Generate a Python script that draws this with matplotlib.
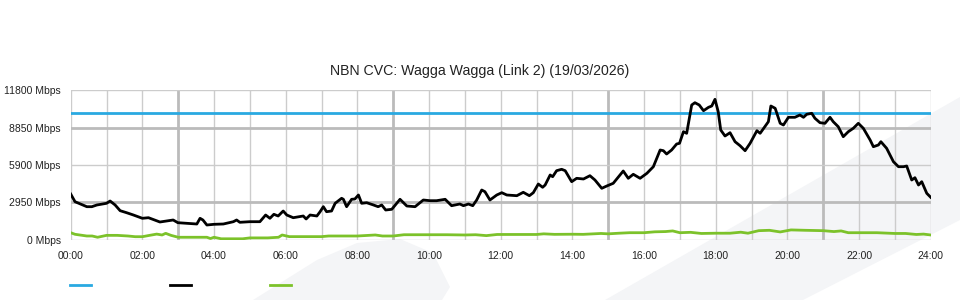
import matplotlib
matplotlib.use("Agg")
import matplotlib.pyplot as plt
from matplotlib.patches import Polygon
from matplotlib.lines import Line2D
import numpy as np

plt.rcParams['font.family'] = ['Liberation Sans', 'DejaVu Sans']

# data (hours since midnight, Mbps)
title = "NBN CVC: Wagga Wagga (Link 2) (19/03/2026)"
capacity = 10000

used_h = [0.00, 0.12, 0.45, 0.59, 0.73, 1.00, 1.10, 1.24, 1.38, 1.56, 1.75, 2.00, 2.17, 2.49, 2.86,
          2.99, 3.52, 3.61, 3.69, 3.80, 4.00, 4.26, 4.54, 4.63, 4.72, 5.00, 5.28, 5.44, 5.56, 5.67,
          5.79, 5.93, 6.03, 6.21, 6.49, 6.57, 6.68, 6.87, 6.96, 7.05, 7.14, 7.28, 7.38, 7.56, 7.61,
          7.70, 7.84, 7.93, 8.03, 8.12, 8.26, 8.45, 8.58, 8.68, 8.79, 8.96, 9.19, 9.38, 9.61, 9.84,
          10.03, 10.21, 10.45, 10.63, 10.86, 10.96, 11.10, 11.22, 11.33, 11.47, 11.56, 11.70, 11.89,
          12.03, 12.17, 12.45, 12.63, 12.80, 12.91, 13.05, 13.17, 13.24, 13.38, 13.45, 13.56, 13.70,
          13.80, 13.98, 14.12, 14.31, 14.49, 14.63, 14.82, 14.96, 15.14, 15.42, 15.56, 15.70, 15.89,
          16.08, 16.26, 16.45, 16.54, 16.63, 16.77, 16.91, 16.99, 17.10, 17.19, 17.33, 17.42, 17.54,
          17.66, 17.80, 17.89, 17.98, 18.07, 18.14, 18.26, 18.40, 18.54, 18.68, 18.82, 18.96, 19.15,
          19.24, 19.47, 19.54, 19.66, 19.80, 19.89, 20.03, 20.21, 20.35, 20.45, 20.54, 20.68, 20.77,
          20.91, 21.05, 21.19, 21.28, 21.42, 21.56, 21.70, 21.84, 21.98, 22.12, 22.31, 22.40, 22.54,
          22.61, 22.77, 22.96, 23.10, 23.24, 23.33, 23.47, 23.56, 23.66, 23.75, 23.89, 24.00]
used_mbps = [3615, 3007, 2613, 2613, 2747, 2881, 3062, 2747, 2297, 2139, 1957, 1697, 1744, 1405, 1563,
             1350, 1247, 1697, 1563, 1168, 1223, 1247, 1429, 1563, 1381, 1429, 1429, 1957, 1697, 2013,
             1879, 2273, 1957, 1744, 1879, 1642, 1957, 1879, 2218, 2613, 2218, 2273, 2881, 3276, 3197,
             2613, 3197, 3220, 3536, 2881, 2928, 2747, 2613, 2747, 2352, 2407, 3197, 2668, 2613, 3141,
             3086, 3086, 3197, 2692, 2826, 2692, 2826, 2692, 3141, 3931, 3797, 3141, 3536,
             3718, 3536, 3481, 3749, 3481, 3718, 4404, 4144, 4325, 5115, 4980, 5454, 5565,
             5454, 4586, 4854, 4799, 5059, 4720, 4065, 4246, 4459, 5430, 4854, 5170, 4854,
             5249, 5770, 7088, 7033, 6772, 7088, 7561, 7617, 8532, 8406, 10640, 10821, 10640,
             10190, 10458, 10561, 11090, 10111, 8667, 8193, 8453, 7743, 7427, 7033, 7617, 8611,
             8406, 9322, 10561, 10379, 9195, 9061, 9669, 9669, 9850, 9669, 9906, 9985, 9590,
             9243, 9195, 9669, 9322, 8927, 8138, 8532, 8801, 9195, 8801, 7877, 7348, 7483,
             7743, 7222, 6164, 5770, 5770, 5825, 4720, 4901, 4325, 4586, 3670, 3355]

up_h = [0.0, 0.12, 0.45, 0.6, 0.75, 1.0, 1.3, 1.6, 1.8, 2.0, 2.2, 2.4, 2.55, 2.65, 2.8, 3.0, 3.5, 3.8,
        3.9, 4.0, 4.2, 4.5, 4.8, 5.0, 5.5, 5.8, 5.9, 6.1, 6.5, 7.0, 7.2, 8.0, 8.5, 8.7, 9.0, 9.3, 10.0,
        10.5, 11.0, 11.3, 11.6, 11.9, 12.3, 13.0, 13.2, 13.5, 14.0, 14.3, 14.8, 15.0, 15.3, 15.6, 16.0,
        16.3, 16.6, 16.8, 17.0, 17.3, 17.6, 18.0, 18.4, 18.7, 18.9, 19.2, 19.5, 19.8, 20.1, 20.5, 21.0,
        21.3, 21.5, 21.7, 22.0, 22.5, 23.0, 23.3, 23.6, 23.8, 24.0]
up_mbps = [560, 434, 300, 300, 200, 350, 350, 300, 245, 245, 350, 450, 380, 510, 350, 200, 200, 200,
           100, 200, 80, 80, 80, 150, 150, 200, 380, 250, 250, 250, 300, 300, 380, 300, 300, 400, 400,
           400, 380, 400, 330, 420, 420, 420, 470, 430, 440, 430, 500, 470, 520, 560, 560,
           630, 650, 700, 560, 590, 500, 520, 520, 600, 520, 720, 750, 620, 780, 750, 720,
           650, 700, 560, 560, 560, 500, 500, 420, 450, 380]

yticks = [0, 2950, 5900, 8850, 11800]
xticks = list(range(0, 25, 2))

blue = '#29a9e1'
green = '#7cc22a'
W, H = 960, 300

fig = plt.figure(figsize=(9.6, 3), dpi=100)

# faint background watermark
def px(pts):
    return [(x / W, 1 - y / H) for x, y in pts]

shape_a = px([(253, 300), (317, 260), (357, 243), (400, 239), (433, 253), (450, 287), (442, 300)])
shape_b = px([(605, 300), (960, 97), (960, 220), (803, 300)])
for s in (shape_a, shape_b):
    fig.patches.append(Polygon(s, closed=True, transform=fig.transFigure,
                               facecolor='#f4f5f7', edgecolor='none', zorder=-5))

ax = fig.add_axes([70.7 / W, 1 - 239.8 / H, 860 / W, 149.5 / H])
ax.set_zorder(2)
ax.patch.set_alpha(0)

# grid
for h in range(25):
    major = h in (3, 9, 15, 21)
    ax.axvline(h, color='#bbbbbb' if major else '#cccccc', lw=2 if major else 1, zorder=1)
for v in yticks:
    major = v in (2950, 8850)
    ax.axhline(v, color='#bbbbbb' if major else '#cccccc', lw=2 if major else 1, zorder=1)

ax.axhline(capacity, color=blue, lw=2, zorder=3)
ax.plot(up_h, up_mbps, color=green, lw=2, zorder=3)
ax.plot(used_h, used_mbps, color='black', lw=2, zorder=4)

ax.set_xlim(0, 24)
ax.set_ylim(0, 11800)
ax.set_xticks(xticks)
ax.set_xticklabels(['%02d:00' % h for h in xticks], fontsize=7.5)
ax.set_yticks(yticks)
ax.set_yticklabels(['%d Mbps' % v for v in yticks], fontsize=7.5)
ax.tick_params(axis='y', length=0, pad=7, colors='#222222')
ax.tick_params(axis='x', length=0, pad=8, colors='#222222')
for sp in ax.spines.values():
    sp.set_visible(False)

fig.text(0.5, 1 - 71 / H, title, ha='center', va='center', fontsize=10.2, color='#222222')

# legend swatches
for x0, c in [(70, blue), (170, 'black'), (270, green)]:
    fig.add_artist(Line2D([x0 / W, (x0 + 21) / W], [1 - 285 / H] * 2, color=c, lw=2,
                          transform=fig.transFigure))

fig.savefig('out.png', dpi=100)
